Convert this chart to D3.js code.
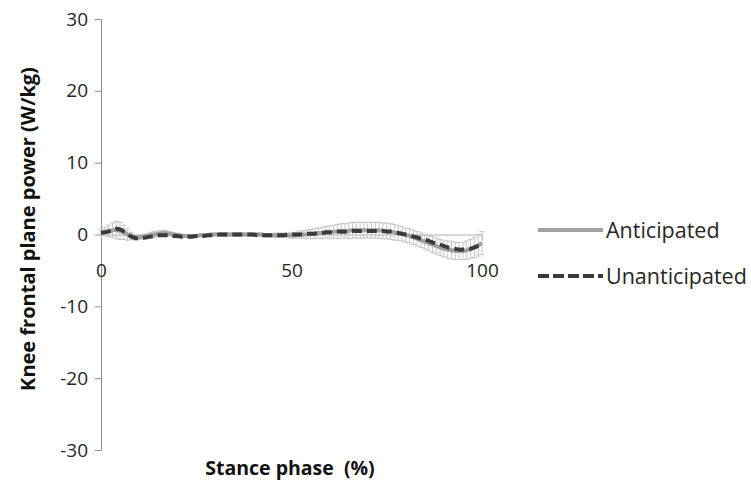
<!DOCTYPE html>
<html>
<head>
<meta charset="utf-8">
<script src="https://cdn.jsdelivr.net/npm/d3@7"></script>
<style>
  html, body { margin: 0; padding: 0; background: #fff; }
  svg { display: block; }
  text { font-family: "Open Sans", "Liberation Sans", sans-serif; }
</style>
</head>
<body>
<svg id="chart" width="751" height="488"></svg>
<script>
// Stance phase in percent (0..100)
const stancePhase = d3.range(0, 101);

// Mean knee frontal plane power (W/kg), anticipated trials
const anticipatedMean = [
  0.3, 0.4, 0.5, 0.6, 0.6, 0.5, 0.3, 0.0, -0.2, -0.4,
  -0.4, -0.3, -0.2, -0.1, 0.0, 0.1, 0.2, 0.2, 0.1, 0.0,
  -0.1, -0.2, -0.2, -0.2, -0.2, -0.2, -0.1, -0.1, -0.1, 0.0,
  0.0, 0.0, 0.0, 0.0, 0.0, 0.0, 0.0, 0.0, 0.0, 0.0,
  0.0, 0.0, 0.0, -0.1, -0.1, -0.1, -0.1, -0.1, -0.1, -0.1,
  -0.1, -0.1, 0.0, 0.0, 0.0, 0.1, 0.1, 0.2, 0.2, 0.3,
  0.3, 0.4, 0.4, 0.5, 0.5, 0.5, 0.6, 0.6, 0.6, 0.6,
  0.6, 0.6, 0.6, 0.6, 0.5, 0.5, 0.4, 0.3, 0.2, 0.1,
  -0.1, -0.2, -0.4, -0.6, -0.8, -1.0, -1.2, -1.4, -1.6, -1.8,
  -2.0, -2.1, -2.2, -2.3, -2.3, -2.3, -2.2, -2.0, -1.8, -1.5,
  -1.2
];

// Standard deviation for anticipated trials (error bars)
const anticipatedSD = [
  0.4, 0.6, 0.8, 1.0, 1.2, 1.2, 1.0, 0.8, 0.5, 0.4,
  0.3, 0.3, 0.3, 0.4, 0.4, 0.4, 0.4, 0.4, 0.3, 0.3,
  0.3, 0.3, 0.2, 0.2, 0.2, 0.2, 0.2, 0.2, 0.2, 0.2,
  0.2, 0.2, 0.2, 0.2, 0.2, 0.2, 0.2, 0.2, 0.2, 0.2,
  0.2, 0.2, 0.2, 0.2, 0.2, 0.2, 0.3, 0.3, 0.3, 0.3,
  0.4, 0.4, 0.5, 0.5, 0.6, 0.6, 0.7, 0.7, 0.8, 0.8,
  0.9, 0.9, 1.0, 1.0, 1.0, 1.1, 1.1, 1.1, 1.1, 1.1,
  1.1, 1.1, 1.1, 1.1, 1.1, 1.1, 1.1, 1.1, 1.0, 1.0,
  1.0, 1.0, 1.0, 1.0, 1.0, 1.0, 1.0, 1.1, 1.1, 1.1,
  1.1, 1.2, 1.2, 1.2, 1.2, 1.2, 1.3, 1.3, 1.4, 1.5,
  1.6
];

// Mean knee frontal plane power (W/kg), unanticipated trials
const unanticipatedMean = [
  0.2, 0.3, 0.4, 0.6, 0.8, 0.7, 0.4, 0.0, -0.3, -0.5,
  -0.5, -0.5, -0.4, -0.3, -0.2, -0.1, -0.1, -0.1, -0.1, -0.2,
  -0.2, -0.3, -0.3, -0.3, -0.3, -0.2, -0.2, -0.2, -0.1, -0.1,
  -0.1, 0.0, 0.0, 0.0, 0.0, 0.0, 0.0, 0.0, 0.0, 0.0,
  0.0, -0.1, -0.1, -0.1, -0.1, -0.1, -0.1, -0.1, -0.1, 0.0,
  0.0, 0.0, 0.0, 0.0, 0.1, 0.1, 0.1, 0.2, 0.2, 0.3,
  0.3, 0.3, 0.4, 0.4, 0.4, 0.4, 0.5, 0.5, 0.5, 0.5,
  0.5, 0.5, 0.5, 0.5, 0.5, 0.4, 0.4, 0.3, 0.2, 0.1,
  0.0, -0.1, -0.3, -0.4, -0.6, -0.7, -0.9, -1.1, -1.3, -1.4,
  -1.6, -1.8, -1.9, -2.0, -2.1, -2.1, -2.1, -2.0, -1.8, -1.6,
  -1.4
];

const xTicks = [0, 50, 100];
const yTicks = [-30, -20, -10, 0, 10, 20, 30];
const seriesNames = ["Anticipated", "Unanticipated"];

const svg = d3.select("#chart");

const x = d3.scaleLinear().domain([0, 100]).range([101, 482]);
const y = d3.scaleLinear().domain([-30, 30]).range([450, 19]);

const axisGrey = "#8c8c8c";
const textColor = "#262626";
const plainNumber = d => String(d);

// Y axis
const yAxis = svg.append("g")
  .attr("transform", `translate(${x(0)},0)`)
  .call(d3.axisLeft(y).tickValues(yTicks).tickFormat(plainNumber).tickSize(6).tickPadding(7));
yAxis.select(".domain").attr("stroke", axisGrey);
yAxis.selectAll(".tick line").attr("stroke", axisGrey);
yAxis.selectAll(".tick text")
  .attr("fill", textColor)
  .style("font-size", "19px")
  .style("font-family", "'Open Sans', sans-serif");

// X axis drawn at y = 0 with labels set lower
const xAxis = svg.append("g")
  .attr("transform", `translate(0,${y(0)})`)
  .call(d3.axisBottom(x).tickValues(xTicks).tickFormat(plainNumber).tickSize(5).tickPadding(24).tickSizeOuter(0));
xAxis.select(".domain").attr("stroke", "#b0b0b0");
xAxis.selectAll(".tick line").attr("stroke", "#b0b0b0");
xAxis.selectAll(".tick text")
  .attr("fill", textColor)
  .style("font-size", "19px")
  .style("font-family", "'Open Sans', sans-serif");

// Error bars (mean ± SD) for anticipated trials
const errGroup = svg.append("g").attr("stroke", "#c4c4c4").attr("stroke-width", 1).attr("fill", "none");
const cap = 2.5;
stancePhase.forEach((p, i) => {
  const m = anticipatedMean[i], s = anticipatedSD[i];
  const cx = x(p);
  errGroup.append("line").attr("x1", cx).attr("x2", cx).attr("y1", y(m + s)).attr("y2", y(m - s));
  errGroup.append("line").attr("x1", cx - cap).attr("x2", cx + cap).attr("y1", y(m + s)).attr("y2", y(m + s));
  errGroup.append("line").attr("x1", cx - cap).attr("x2", cx + cap).attr("y1", y(m - s)).attr("y2", y(m - s));
});

const line = d3.line()
  .x((d, i) => x(stancePhase[i]))
  .y(d => y(d))
  .curve(d3.curveCatmullRom);

svg.append("path")
  .datum(anticipatedMean)
  .attr("d", line)
  .attr("fill", "none")
  .attr("stroke", "#a0a0a0")
  .attr("stroke-width", 4);

svg.append("path")
  .datum(unanticipatedMean)
  .attr("d", line)
  .attr("fill", "none")
  .attr("stroke", "#3a3a3a")
  .attr("stroke-width", 4)
  .attr("stroke-dasharray", "10,5");

// Axis titles
svg.append("text")
  .attr("x", 290)
  .attr("y", 475)
  .attr("text-anchor", "middle")
  .attr("fill", "#111")
  .attr("xml:space", "preserve")
  .style("white-space", "pre")
  .style("font-size", "19.5px")
  .style("font-weight", "bold")
  .text("Stance phase  (%)");

svg.append("text")
  .attr("transform", "translate(35,229) rotate(-90)")
  .attr("text-anchor", "middle")
  .attr("fill", "#111")
  .style("font-size", "20px")
  .style("font-weight", "bold")
  .text("Knee frontal plane power (W/kg)");

// Legend
const legend = svg.append("g");
const legendRows = [
  { name: seriesNames[0], stroke: "#a0a0a0", dash: null, y: 230 },
  { name: seriesNames[1], stroke: "#3a3a3a", dash: "11,4", y: 276 }
];
legendRows.forEach(r => {
  legend.append("line")
    .attr("x1", 538).attr("x2", 603)
    .attr("y1", r.y).attr("y2", r.y)
    .attr("stroke", r.stroke)
    .attr("stroke-width", 4)
    .attr("stroke-dasharray", r.dash);
  legend.append("text")
    .attr("x", 606)
    .attr("y", r.y + 8)
    .attr("fill", textColor)
    .style("font-size", "21.5px")
    .text(r.name);
});
</script>
</body>
</html>
